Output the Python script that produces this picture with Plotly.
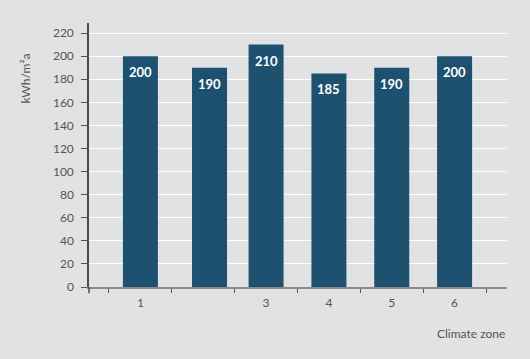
import plotly.graph_objects as go

zones = [1, 2, 3, 4, 5, 6]
zone_labels = ["1", "", "3", "4", "5", "6"]
values = [200, 190, 210, 185, 190, 200]
y_ticks = list(range(0, 221, 20))

BG = "#e1e2e3"
BAR = "#1e5170"
TXT = "#555555"
FONT = "Lato"

bw = 0.557
offsets = [-bw / 2, -bw / 2 + 0.1, -bw / 2, -bw / 2, -bw / 2, -bw / 2]

fig = go.Figure()
fig.add_trace(go.Bar(
    x=zones, y=values, width=bw, offset=offsets,
    marker=dict(color=BAR, line=dict(width=0)),
    hoverinfo="skip",
))

for xi, v, off in zip(zones, values, offsets):
    fig.add_annotation(
        x=xi + off + bw / 2, y=v, text="<b>%d</b>" % v, showarrow=False,
        yshift=-16, font=dict(family=FONT, size=13, color="white"),
    )

fig.add_annotation(
    xref="paper", yref="paper", x=-0.153, y=0.79, xanchor="center", yanchor="middle",
    text="kWh/m²a", textangle=-90, showarrow=False,
    font=dict(family=FONT, size=12, color=TXT),
)
fig.add_annotation(
    xref="paper", yref="paper", x=1.0, y=-0.175, xanchor="right", yanchor="middle",
    text="Climate zone", showarrow=False, font=dict(family=FONT, size=12, color=TXT),
)
fig.add_shape(
    type="line", xref="paper", yref="paper", x0=0, x1=0, y0=0, y1=-0.024,
    line=dict(color="#4a4a4a", width=1.5),
)

fig.update_layout(
    width=530, height=359,
    margin=dict(l=89, r=23, t=23, b=72),
    paper_bgcolor=BG, plot_bgcolor=BG,
    showlegend=False,
    font=dict(family=FONT, size=12, color=TXT),
    xaxis=dict(
        range=[0.182, 6.834], tickmode="array", tickvals=zones, ticktext=zone_labels,
        ticks="", showgrid=False, zeroline=False,
        showline=True, linecolor="#8a8a8a", linewidth=2,
        ticklabelstandoff=4,
        tickfont=dict(family=FONT, size=12, color=TXT),
        minor=dict(tick0=0.5, dtick=1, ticks="outside", ticklen=4, tickcolor="#555555",
                   tickwidth=1, showgrid=False),
    ),
    yaxis=dict(
        range=[0, 228.7], tickmode="array", tickvals=y_ticks,
        ticks="outside", ticklen=6, tickcolor="#555555", tickwidth=1,
        showgrid=True, gridcolor="white", gridwidth=1.2, zeroline=False,
        showline=True, linecolor="#4a4a4a", linewidth=1.5,
        ticklabelstandoff=5,
        tickfont=dict(family=FONT, size=12, color=TXT),
    ),
)

fig.write_html("out.html")
